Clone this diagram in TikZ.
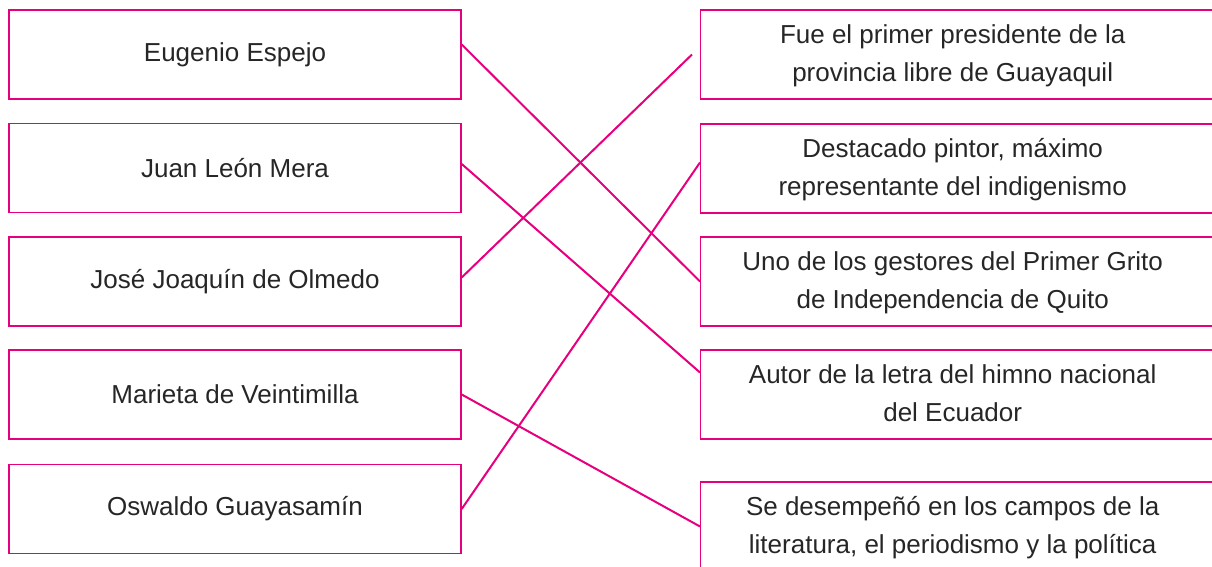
\documentclass[tikz,border=0pt]{standalone}
\usepackage{fontspec}
\setmainfont{Liberation Sans}
\usepackage{xcolor}
\usepackage{tikz}
\usetikzlibrary{positioning}
\definecolor{rosa}{RGB}{230,0,126}
% text centred in the visible part of a right-hand box, box runs off the page
\newcommand{\desctext}[1]{\makebox[252pt]{\begin{tabular}{@{}c@{}}#1\end{tabular}}\hspace*{20pt}}

\begin{document}
\begin{tikzpicture}[x=0.5pt, y=-0.5pt,
  lbox/.style={draw=rosa, line width=0.7pt, minimum width=226pt, minimum height=44.5pt,
               inner sep=0pt, align=center, font=\fontsize{13}{19}\selectfont, text=black!85},
  rbox/.style={draw=rosa, line width=0.7pt, minimum height=44.5pt, anchor=west,
               inner sep=0pt, font=\fontsize{13}{19}\selectfont, text=black!85},
  link/.style={draw=rosa, line width=1pt}
]
\useasboundingbox (0,0) rectangle (1212,567);

% Left column: names
\node[lbox] (espejo)      at (235,54.5)  {Eugenio Espejo};
\node[lbox] (mera)        at (235,168)   {Juan León Mera};
\node[lbox] (olmedo)      at (235,281.5) {José Joaquín de Olmedo};
\node[lbox] (veintimilla) at (235,394.5) {Marieta de Veintimilla};
\node[lbox] (guayasamin)  at (235,509)   {Oswaldo Guayasamín};

% Right column: descriptions
\node[rbox] (presidente) at (700,54.5)  {\desctext{Fue el primer presidente de la\\provincia libre de Guayaquil}};
\node[rbox] (pintor)     at (700,168.5) {\desctext{Destacado pintor, máximo\\representante del indigenismo}};
\node[rbox] (gestores)   at (700,281.5) {\desctext{Uno de los gestores del Primer Grito\\de Independencia de Quito}};
\node[rbox] (himno)      at (700,394.5) {\desctext{Autor de la letra del himno nacional\\del Ecuador}};
\node[rbox] (politica)   at (700,526.5) {\desctext{Se desempeñó en los campos de la\\literatura, el periodismo y la política}};

% Matching lines
\draw[link] ([yshift=5pt]espejo.east) -- (gestores.west);
\draw[link] ([yshift=2pt]mera.east) -- ([yshift=11pt]himno.west);
\draw[link] ([yshift=2pt]olmedo.east) -- ([xshift=-4pt]presidente.west);
\draw[link] (veintimilla.east) -- (politica.west);
\draw[link] (guayasamin.east) -- ([yshift=3pt]pintor.west);
\end{tikzpicture}
\end{document}
